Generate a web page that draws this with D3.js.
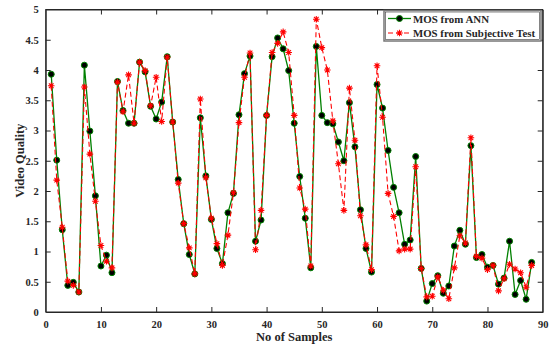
<!DOCTYPE html>
<html>
<head>
<meta charset="utf-8">
<script src="https://cdn.jsdelivr.net/npm/d3@7"></script>
<style>
  html, body { margin: 0; padding: 0; background: #fff; }
  svg { display: block; }
  text { font-family: "Liberation Serif", "Times New Roman", serif; font-weight: bold; }
</style>
</head>
<body>
<svg id="chart" width="550" height="348"></svg>
<script>
// ---- data ----
const samples = d3.range(1, 89);
const mosANN = [
  3.93, 2.51, 1.36, 0.44, 0.49, 0.33, 4.08, 2.99, 1.92, 0.76,
  0.94, 0.65, 3.81, 3.33, 3.12, 3.12, 4.13, 3.97, 3.40, 3.19,
  3.47, 4.22, 3.14, 2.19, 1.46, 0.95, 0.63, 3.21, 2.25, 1.53,
  1.05, 0.80, 1.64, 1.96, 3.26, 3.94, 4.23, 1.17, 1.52, 3.25,
  4.22, 4.53, 4.35, 3.99, 3.12, 2.24, 1.55, 0.73, 4.39, 3.25,
  3.13, 3.11, 2.81, 2.50, 3.46, 2.73, 1.69, 1.05, 0.66, 3.76,
  3.37, 2.67, 2.06, 1.64, 1.12, 1.19, 2.57, 0.72, 0.18, 0.47,
  0.60, 0.31, 0.43, 1.09, 1.35, 1.12, 2.75, 0.90, 0.95, 0.74,
  0.77, 0.46, 0.56, 1.17, 0.29, 0.52, 0.21, 0.82
];
const mosSubjective = [
  3.74, 2.18, 1.40, 0.51, 0.44, 0.33, 3.72, 2.61, 1.83, 1.10,
  0.84, 0.73, 3.80, 3.31, 3.92, 3.12, 4.13, 3.99, 3.41, 3.88,
  3.15, 4.21, 3.14, 2.13, 1.46, 1.06, 0.63, 3.52, 2.22, 1.55,
  1.13, 0.77, 1.27, 1.97, 3.13, 3.88, 4.28, 1.03, 1.68, 3.25,
  4.29, 4.44, 4.63, 4.29, 3.25, 2.05, 1.70, 0.76, 4.84, 4.37,
  4.00, 3.16, 2.45, 1.68, 3.70, 2.84, 1.59, 1.11, 0.70, 4.07,
  3.22, 1.96, 1.58, 1.01, 1.04, 1.04, 2.40, 0.72, 0.25, 0.26,
  0.58, 0.36, 0.22, 0.73, 1.26, 1.14, 2.88, 0.92, 0.89, 0.70,
  0.77, 0.35, 0.55, 0.79, 0.71, 0.65, 0.41, 0.77
];
const xTicks = [0, 10, 20, 30, 40, 50, 60, 70, 80, 90];
const yTicks = [0, 0.5, 1, 1.5, 2, 2.5, 3, 3.5, 4, 4.5, 5];
const seriesNames = ["MOS from ANN", "MOS from Subjective Test"];

// ---- layout ----
const svg = d3.select("#chart");
const L = 45.7, R = 542.7, T = 9.5, B = 312;
const axisColor = "#262626";
const x = d3.scaleLinear().domain([0, 90]).range([L, R]);
const y = d3.scaleLinear().domain([0, 5]).range([B, T]);
const tickLen = 5;

// box
svg.append("rect").attr("x", L).attr("y", T).attr("width", R - L).attr("height", B - T)
  .attr("fill", "none").attr("stroke", axisColor).attr("stroke-width", 1);

// bottom axis
const xAxis = d3.axisBottom(x).tickValues(xTicks).tickSizeInner(-tickLen).tickSizeOuter(0).tickPadding(9).tickFormat(d3.format("d"));
const gx = svg.append("g").attr("transform", `translate(0,${B})`).call(xAxis);
// top ticks
const gxt = svg.append("g").attr("transform", `translate(0,${T})`)
  .call(d3.axisTop(x).tickValues(xTicks).tickSizeInner(-tickLen).tickSizeOuter(0).tickFormat(""));
// left axis
const yAxis = d3.axisLeft(y).tickValues(yTicks).tickSizeInner(-tickLen).tickSizeOuter(0).tickPadding(7).tickFormat(d => String(d));
const gy = svg.append("g").attr("transform", `translate(${L},0)`).call(yAxis);
// right ticks
const gyr = svg.append("g").attr("transform", `translate(${R},0)`)
  .call(d3.axisRight(y).tickValues(yTicks).tickSizeInner(-tickLen).tickSizeOuter(0).tickFormat(""));

[gx, gxt, gy, gyr].forEach(g => {
  g.select(".domain").attr("stroke", axisColor);
  g.selectAll(".tick line").attr("stroke", axisColor);
  g.selectAll("text").attr("fill", axisColor)
    .style("font-family", '"Liberation Serif", serif').style("font-weight", "bold").style("font-size", "10.5px");
});
gx.selectAll(".tick").filter(d => d === 0 || d === 90).select("line").remove();
gy.selectAll(".tick").filter(d => d === 0 || d === 5).select("line").remove();
gxt.selectAll(".tick").filter(d => d === 0 || d === 90).remove();
gyr.selectAll(".tick").filter(d => d === 0 || d === 5).remove();

// axis titles
svg.append("text").attr("x", (L + R) / 2).attr("y", 341).attr("text-anchor", "middle")
  .attr("fill", axisColor).style("font-size", "12.5px").text("No of Samples");
svg.append("text").attr("transform", `translate(24,${(T + B) / 2}) rotate(-90)`).attr("text-anchor", "middle")
  .attr("fill", axisColor).style("font-size", "12.5px").text("Video Quality");

// ---- series ----
const green = "#008000", red = "#ff0000";
const annPts = samples.map((s, i) => [s, mosANN[i]]);
const subPts = samples.map((s, i) => [s, mosSubjective[i]]);
const line = d3.line().x(d => x(d[0])).y(d => y(d[1]));

svg.append("path").datum(annPts).attr("d", line).attr("fill", "none")
  .attr("stroke", green).attr("stroke-width", 1.3);
svg.append("g").selectAll("circle").data(annPts).join("circle")
  .attr("cx", d => x(d[0])).attr("cy", d => y(d[1])).attr("r", 3)
  .attr("fill", "#000").attr("stroke", green).attr("stroke-width", 1);

svg.append("path").datum(subPts).attr("d", line).attr("fill", "none")
  .attr("stroke", red).attr("stroke-width", 1.1).attr("stroke-dasharray", "5,3");

function asterisk(cx, cy, s) {
  const d = s * 0.7071;
  return `M${cx - s},${cy}L${cx + s},${cy}M${cx},${cy - s}L${cx},${cy + s}` +
         `M${cx - d},${cy - d}L${cx + d},${cy + d}M${cx - d},${cy + d}L${cx + d},${cy - d}`;
}
svg.append("g").selectAll("path").data(subPts).join("path")
  .attr("d", d => asterisk(x(d[0]), y(d[1]), 3.3))
  .attr("fill", "none").attr("stroke", red).attr("stroke-width", 1.1);

// ---- legend ----
const lg = svg.append("g");
lg.append("rect").attr("x", 384).attr("y", 10.5).attr("width", 157).attr("height", 30.5)
  .attr("fill", "#fff").attr("stroke", "#777").attr("stroke-width", 1.5);
lg.append("rect").attr("x", 385.5).attr("y", 12).attr("width", 154).attr("height", 27.5)
  .attr("fill", "none").attr("stroke", "#333").attr("stroke-width", 0.6);
const rows = [
  { name: seriesNames[0], yy: 18.5, type: "ann", w: 76 },
  { name: seriesNames[1], yy: 33, type: "sub", w: 122 }
];
rows.forEach(r => {
  if (r.type === "ann") {
    lg.append("line").attr("x1", 388).attr("x2", 411).attr("y1", r.yy).attr("y2", r.yy)
      .attr("stroke", green).attr("stroke-width", 1.3);
    lg.append("circle").attr("cx", 399.5).attr("cy", r.yy).attr("r", 3)
      .attr("fill", "#000").attr("stroke", green);
  } else {
    lg.append("line").attr("x1", 388).attr("x2", 411).attr("y1", r.yy).attr("y2", r.yy)
      .attr("stroke", red).attr("stroke-width", 1.1).attr("stroke-dasharray", "5,3");
    lg.append("path").attr("d", asterisk(399.5, r.yy, 3.3))
      .attr("fill", "none").attr("stroke", red).attr("stroke-width", 1.1);
  }
  lg.append("text").attr("x", 413).attr("y", r.yy + 4).attr("fill", axisColor)
    .style("font-size", "11px").attr("textLength", r.w).attr("lengthAdjust", "spacingAndGlyphs")
    .text(r.name);
});
</script>
</body>
</html>
